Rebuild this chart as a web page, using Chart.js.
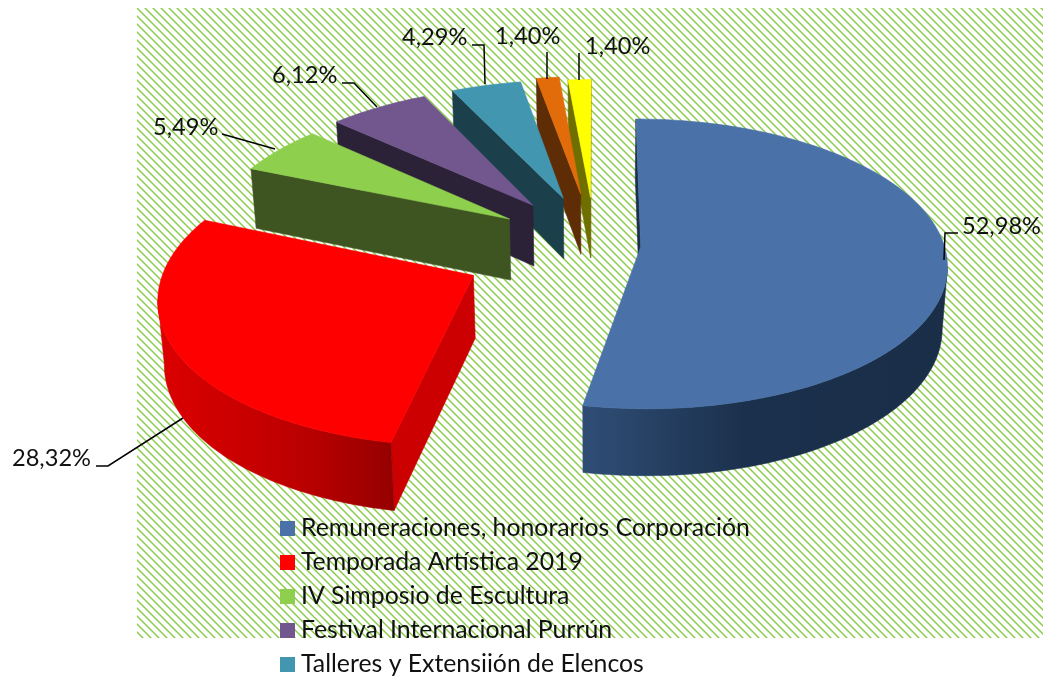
<!DOCTYPE html>
<html><head><meta charset="utf-8">
<style>html,body{margin:0;padding:0;background:#fff}canvas{display:block}</style>
<script src="https://cdn.jsdelivr.net/npm/chart.js@4/dist/chart.umd.js"></script>
</head><body><canvas id="c" width="1043" height="677"></canvas>
<script>
const categories = ['Remuneraciones, honorarios Corporación','Temporada Artística 2019','IV Simposio de Escultura','Festival Internacional Purrún','Talleres y Extensiión de Elencos','Otros 1','Otros 2'];
const values = [52.98,28.32,5.49,6.12,4.29,1.40,1.40];
const topColors = ['#4A72A8','#FF0000','#8ECF4E','#72578E','#4396B0','#E36C0A','#FFFF00'];
const wallColors = ['#1B2F4A','#CC0000','#3E5522','#2C2238','#1B3F4B','#5E2D05','#6F6F00'];
const explode = [46,135,104,108,108,114,105];

// text placement: [text x, text middle y], leader polyline
const labelLayout = [
 {x:962,y:226,path:[[944,260],[945,233],[958,233]]},
 {x:12,y:458,path:[[183,418],[108,466],[96,466]]},
 {x:153,y:127,path:[[275,149],[222,134]]},
 {x:272,y:75,path:[[377,107],[354,83],[342,83]]},
 {x:402,y:37,path:[[485,84],[484,45],[472,45]]},
 {x:495,y:36,path:[[547,79],[547,52]]},
 {x:585,y:46,path:[[579,80],[579,53]]}
];
const FONT='Lato, "Open Sans", sans-serif';
const view={cx:595,cy:247.5,R:304,a:143,p:0.119,vc:-0.02,h0:25,h1:37,conv:0.015};

function project(U,v){const s=1/(1-view.p*v);return {x:view.cx+U*s,y:view.cy+view.a*v*s,s};}
function lower(P){return {x:P.x-(P.x-view.cx)*view.conv,y:P.y+view.h0+view.h1*P.s};}

function hatch(ctx){
  const t=document.createElement('canvas');t.width=8;t.height=8;
  const g=t.getContext('2d');g.fillStyle='#fff';g.fillRect(0,0,8,8);
  g.strokeStyle='#84CB40';g.lineWidth=1.35;
  [-8,0,8].forEach(d=>{g.beginPath();g.moveTo(d-1,-1);g.lineTo(d+9,9);g.stroke();});
  ctx.save();
  ctx.translate(137,8);
  ctx.fillStyle=ctx.createPattern(t,'repeat');
  ctx.fillRect(0,0,1043-137,638-8);
  ctx.restore();
}
function poly(ctx,pts,fill){
  ctx.beginPath();pts.forEach((p,i)=>i?ctx.lineTo(p.x,p.y):ctx.moveTo(p.x,p.y));ctx.closePath();
  ctx.fillStyle=fill;ctx.fill();ctx.strokeStyle=fill;ctx.lineWidth=0.6;ctx.stroke();
}
function wallFill(ctx,i){
  if(i===0){const g=ctx.createLinearGradient(583,0,945,0);
    g.addColorStop(0,'#2F4E76');g.addColorStop(.45,'#1B304C');g.addColorStop(1,'#1A2E48');return g;}
  if(i===1){const g=ctx.createLinearGradient(160,0,393,0);
    g.addColorStop(0,'#DC0000');g.addColorStop(.6,'#BC0000');g.addColorStop(1,'#960000');return g;}
  return wallColors[i];
}
function drawSlice(ctx,el,i){
  const a0=el.startAngle+Math.PI/2,a1=el.endAngle+Math.PI/2,m=(a0+a1)/2;
  const off=el.options.offset;
  const U0=off*Math.sin(m),V0=view.vc-off/view.R*Math.cos(m);
  const A=project(U0,V0),rim=[];
  const n=Math.max(4,Math.ceil((a1-a0)/0.02));
  for(let k=0;k<=n;k++){const t=a0+(a1-a0)*k/n;
    rim.push(project(U0+view.R*Math.sin(t),V0-Math.cos(t)));}
  // cut faces that look toward the viewer
  [[A,rim[0]],[rim[n],A]].forEach(([p,q])=>{
    if(q.x<p.x)poly(ctx,[p,q,lower(q),lower(p)],wallColors[i]);
  });
  // outer wall, one polygon per leftward-running stretch of the rim
  let run=[];
  const flush=()=>{if(run.length>1){poly(ctx,run.concat(run.map(lower).reverse()),wallFill(ctx,i));}run=[];};
  for(let k=0;k<n;k++){
    if(rim[k+1].x<rim[k].x){if(!run.length)run.push(rim[k]);run.push(rim[k+1]);}else flush();
  }
  flush();
  poly(ctx,[A,...rim],topColors[i]);
}
const pie3d={id:'pie3d',
  beforeDraw(chart){hatch(chart.ctx);},
  beforeDatasetDraw(){return false;},
  afterDatasetsDraw(chart){
    const ctx=chart.ctx,arcs=chart.getDatasetMeta(0).data;
    for(let i=arcs.length-1;i>=0;i--)drawSlice(ctx,arcs[i],i);
    // leaders and value labels
    ctx.textBaseline='middle';ctx.textAlign='left';
    labelLayout.forEach((l,i)=>{
      ctx.beginPath();l.path.forEach((p,k)=>k?ctx.lineTo(p[0],p[1]):ctx.moveTo(p[0],p[1]));
      ctx.strokeStyle='#000';ctx.lineWidth=1.5;ctx.stroke();
      ctx.fillStyle='#111';ctx.font='23.6px '+FONT;
      ctx.fillText(values[i].toFixed(2).replace('.',',')+'%',l.x,l.y);
    });
    // legend, the entries below the fifth run past the page
    ctx.font='24.8px '+FONT;ctx.textBaseline='middle';
    categories.forEach((c,i)=>{
      const y=521+i*34;
      ctx.fillStyle=topColors[i];ctx.fillRect(280,y,15,15);
      ctx.fillStyle='#111';ctx.fillText(c,301,y+7);
    });
  }
};
new Chart(document.getElementById('c'),{
  type:'pie',
  data:{labels:categories,datasets:[{data:values,backgroundColor:topColors,borderWidth:0,offset:explode}]},
  options:{responsive:false,animation:false,
    plugins:{legend:{display:false},tooltip:{enabled:false}}},
  plugins:[pie3d]
});
</script></body></html>
